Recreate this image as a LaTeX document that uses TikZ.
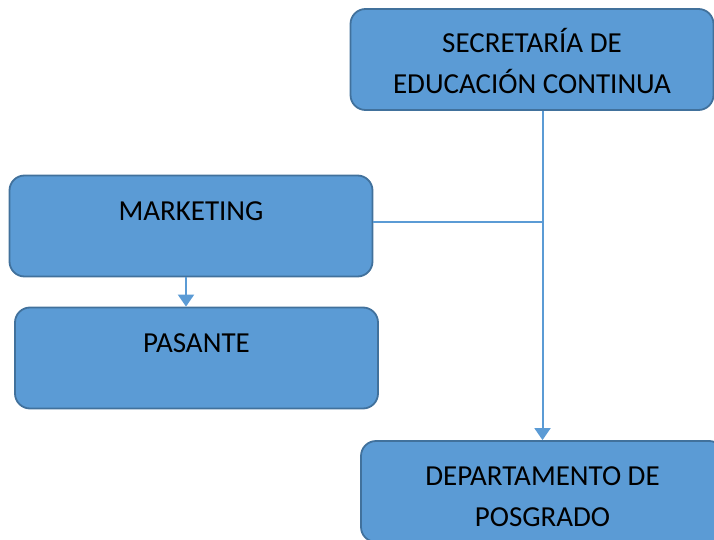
\documentclass[tikz,border=0pt]{standalone}
\usepackage{fontspec}
\setmainfont{Carlito}
\usetikzlibrary{arrows.meta}
\definecolor{boxfill}{HTML}{5B9BD5}
\definecolor{boxline}{HTML}{41719C}
\begin{document}
\begin{tikzpicture}[
      x=1pt, y=-1pt,
      box/.style={draw=boxline, fill=boxfill, line width=1.8pt, rounded corners=15pt,
                  minimum width=363pt, minimum height=101pt, inner sep=0pt,
                  text height=45pt, text depth=56pt,
                  font=\fontsize{29}{41}\selectfont, align=center, text=black},
      twoline/.style={box, text height=85pt, text depth=16pt},
      link/.style={draw=boxfill, line width=2pt},
      tip/.style={-{Triangle[width=16pt,length=12pt]}}
    ]
      \useasboundingbox (0,0) rectangle (714,540);
      \node[twoline] (sec) at (532,59.5) {SECRETARÍA DE\\EDUCACIÓN CONTINUA};
      \node[box] (mkt) at (191,226) {MARKETING};
      \node[box] (pas) at (196.5,358) {PASANTE};
      \node[twoline] (dep) at (542.5,491.5) {DEPARTAMENTO DE\\POSGRADO};
      % connectors
      \draw[link,tip] (dep.north |- sec.south) -- (dep.north);
      \draw[link] ([yshift=4pt]mkt.east) -- ([yshift=4pt]mkt.east -| dep.north);
      \draw[link,tip] ([xshift=-5pt]mkt.south) -- ([xshift=-5pt]mkt.south |- pas.north);
    \end{tikzpicture}
\end{document}
